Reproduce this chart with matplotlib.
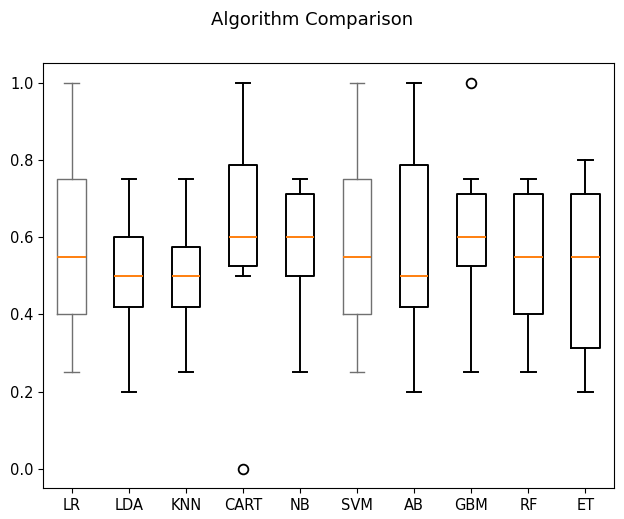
import matplotlib
matplotlib.use('Agg')
from matplotlib import pyplot as plt

names = ['LR', 'LDA', 'KNN', 'CART', 'NB', 'SVM', 'AB', 'GBM', 'RF', 'ET']
whislo = [0.25, 0.20, 0.25, 0.50, 0.25, 0.25, 0.20, 0.25, 0.25, 0.20]
q1 = [0.40, 0.42, 0.42, 0.525, 0.50, 0.40, 0.42, 0.525, 0.40, 0.3125]
med = [0.55, 0.50, 0.50, 0.60, 0.60, 0.55, 0.50, 0.60, 0.55, 0.55]
q3 = [0.75, 0.60, 0.575, 0.7875, 0.7125, 0.75, 0.7875, 0.7125, 0.7125, 0.7125]
whishi = [1.00, 0.75, 0.75, 1.00, 0.75, 1.00, 1.00, 0.75, 0.75, 0.80]
fliers = [[], [], [], [0.0], [], [], [], [1.0], [], []]

stats = []
for i in range(len(names)):
    stats.append(dict(label=names[i], whislo=whislo[i], q1=q1[i], med=med[i],
                      q3=q3[i], whishi=whishi[i], fliers=fliers[i]))

fig = plt.figure(figsize=(6.24, 5.19), dpi=100)
fig.suptitle('Algorithm Comparison', y=0.979, fontsize=13)
ax = fig.add_axes([0.069, 0.059, 0.915, 0.819])
art = ax.bxp(stats)
ax.tick_params(labelsize=10.5)

# the LR and SVM boxes come out thinner / greyer in the reference
for i in range(len(names)):
    col = '#707070' if names[i] in ('LR', 'SVM') else 'black'
    lw = 1.0 if names[i] in ('LR', 'SVM') else 1.4
    art['boxes'][i].set(color=col, linewidth=lw)
    for ln in art['whiskers'][2*i:2*i+2] + art['caps'][2*i:2*i+2]:
        ln.set(color=col, linewidth=lw)
    art['medians'][i].set(linewidth=1.4)
for fl in art['fliers']:
    fl.set(markersize=7, markeredgewidth=1.3)

fig.savefig('out.png', dpi=100)
